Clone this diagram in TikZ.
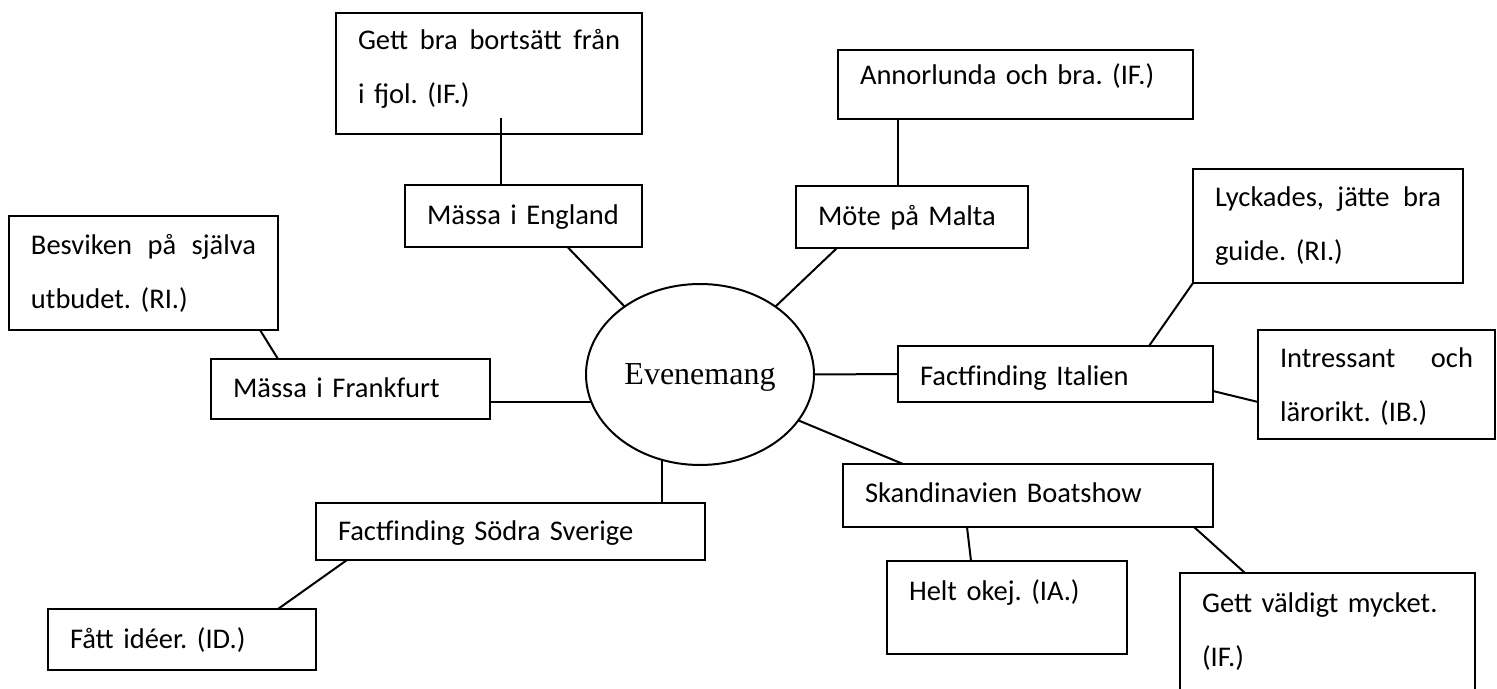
\documentclass[tikz,border=0pt]{standalone}
\usepackage{fontspec}
\setmainfont{Carlito}
\newfontfamily\evfont{Liberation Serif}
\usetikzlibrary{shapes.geometric}
\frenchspacing

\begin{document}
\begin{tikzpicture}[x=0.5pt,y=-0.5pt,line width=1pt]
  \tikzstyle{box}=[draw,anchor=north west,align=left,inner xsep=11pt,inner ysep=0pt,
                   outer sep=0pt,text height=10pt,text depth=1.5pt,
                   font=\fontsize{14.25}{27}\selectfont]
  \useasboundingbox (0,0) rectangle (1497,689);
  \clip (0,0) rectangle (1497,689);

  \node[ellipse,draw,minimum width=114pt,minimum height=90.5pt,inner sep=0pt,outer sep=0pt,
        text depth=0pt,font=\evfont\fontsize{16}{19}\selectfont] (ev) at (700,374.5) {Evenemang};

  \node[box,text width=96.5pt,minimum height=31pt]  (eng)  at (405,185)  {Mässa i England};
  \node[box,text width=94pt,minimum height=31pt]    (mal)  at (796,186)  {Möte på Malta};
  \node[box,text width=117.5pt,minimum height=30pt] (fra)  at (211,359)  {Mässa i Frankfurt};
  \node[box,text width=135.5pt,minimum height=28pt,text height=11pt,text depth=0pt]
                                                     (ita)  at (898,346)  {Factfinding Italien};
  \node[box,text width=163pt,minimum height=31.5pt,text depth=3.5pt]
                                                     (bs)   at (843,464)  {Skandinavien Boatshow};
  \node[box,text width=172.5pt,minimum height=28.5pt] (sod) at (316,503)  {Factfinding Södra Sverige};

  % two lines: depth counts from the first baseline
  \node[box,text width=131pt,minimum height=60.5pt,text depth=33.5pt]
        (gett) at (336,13)   {Gett \hfill bra \hfill bortsätt \hfill från\\i fjol. (IF.)};
  \node[box,text width=155.5pt,minimum height=34.5pt,text depth=9.5pt]
        (ann)  at (838,50)   {Annorlunda och bra. (IF.)};
  \node[box,text width=112.5pt,minimum height=57pt,text depth=28pt]
        (bes)  at (9,216)    {Besviken \hfill på \hfill själva\\utbudet. (RI.)};
  \node[box,text width=113pt,minimum height=57pt,text depth=29pt]
        (lyc)  at (1193,169) {Lyckades, \hfill jätte \hfill bra\\guide. (RI.)};
  \node[box,text width=96.5pt,minimum height=54.5pt,text depth=27.5pt]
        (int)  at (1258,330) {Intressant \hfill och\\lärorikt. (IB.)};
  \node[box,text width=98pt,minimum height=46.5pt,text depth=17.5pt]
        (helt) at (887,561)  {Helt okej. (IA.)};
  \node[box,text width=125.5pt,minimum height=65pt,text depth=36pt]
        (gv)   at (1180,573) {Gett väldigt mycket.\\(IF.)};
  \node[box,text width=112pt,minimum height=30.5pt]
        (fat)  at (48,609)   {Fått idéer. (ID.)};

  \coordinate (ge) at ([shift={(6pt,8pt)}]gett.south);      % starts inside the box
  \coordinate (am) at ([xshift=-7pt]mal.north);

  \path (ge) edge (ge |- eng.north)
        ([xshift=22pt]eng.south) edge (ev.138)
        (am) edge (am |- ann.south)
        ([xshift=-37.5pt]mal.south) edge (ev.42)
        ([xshift=58.25pt]bes.south) edge ([xshift=-36.25pt]fra.north)
        (ev.194 -| fra.east) edge (ev.194)
        (ev.east) edge (ita.west)
        (lyc.south west) edge ([xshift=46.75pt]ita.north)
        ([yshift=-8.5pt]ita.east) edge ([yshift=-8.75pt]int.west)
        (ev.-25) edge ([xshift=-62.5pt]bs.north)
        ([xshift=-30.5pt]bs.south) edge ([xshift=-18pt]helt.north)
        ([xshift=83pt]bs.south) edge ([xshift=-41.25pt]gv.north)
        (ev.-114) edge (ev.-114 |- sod.north)
        ([xshift=-81.75pt]sod.south) edge ([xshift=48pt]fat.north);
\end{tikzpicture}
\end{document}
